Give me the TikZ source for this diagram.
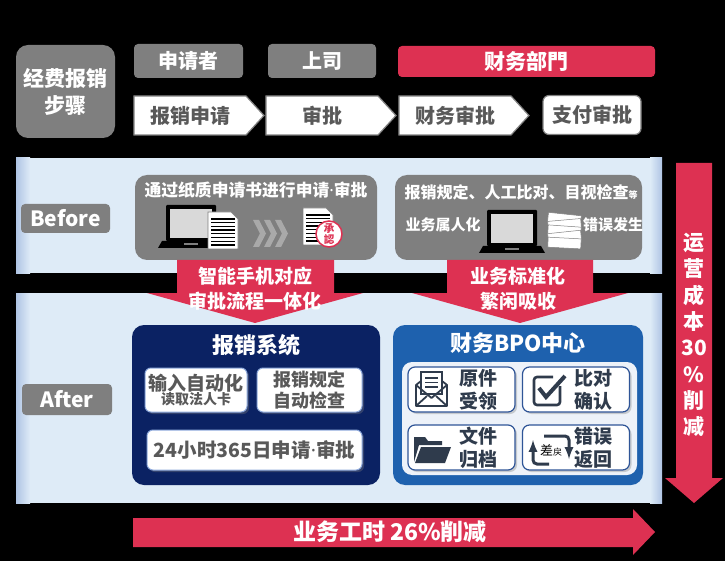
\documentclass[tikz,border=0pt]{standalone}
\usepackage{fontspec}
\setmainfont{Noto Sans CJK SC}
\newfontfamily\latinfont{Noto Sans}
\usetikzlibrary{shapes.symbols,shadows}
\definecolor{expgray}{HTML}{7F7F7F}
\definecolor{expred}{HTML}{DD3152}
\definecolor{panelblue}{HTML}{DEEBF7}
\definecolor{paneledge}{HTML}{AFC4E4}
\definecolor{sysnavy}{HTML}{0B2263}
\definecolor{bpoblue}{HTML}{1E61AE}
\definecolor{bpoinner}{HTML}{EDF2F9}
\definecolor{txtgray}{HTML}{595959}
\definecolor{icondark}{HTML}{2F3B4C}
\definecolor{boxedge}{HTML}{8FAADC}
\definecolor{celledge}{HTML}{2F5597}
\definecolor{chevgray}{HTML}{A9A9A9}
\definecolor{lapgray}{HTML}{D9D9D9}
\newcommand{\fsz}[2]{\bfseries\fontsize{#1}{#2}\selectfont}
\newcommand{\mdot}{{\latinfont\bfseries ·}}

\begin{document}
\begin{tikzpicture}[x=1pt,y=-1pt,>=latex,
  graybox/.style={fill=expgray,rounded corners=4pt,inner sep=0pt,text=white,font=\fsz{20}{24}},
  stepbox/.style={signal,signal to=east,signal pointer angle=95,draw=expgray,line width=1.2pt,
    fill=white,text=txtgray,minimum height=39pt,minimum width=130pt,inner sep=0pt,font=\fsz{20}{24}},
  redtext/.style={text=white,align=center,font=\fsz{19}{25}},
  sysbox/.style={draw=boxedge,line width=1pt,fill=white,rounded corners=6pt,text=txtgray,
    inner sep=0pt,align=center,drop shadow={opacity=0.35,shadow xshift=2pt,shadow yshift=-2pt}},
  bpocell/.style={draw=celledge,line width=1.2pt,fill=white,rounded corners=7pt,
    minimum width=107pt,minimum height=45pt,inner sep=0pt,
    drop shadow={opacity=0.35,shadow xshift=2pt,shadow yshift=-2pt}},
  bpotext/.style={text=icondark,align=center,font=\fsz{19}{23}}]

% background
\fill[black] (0,0) rectangle (725,561);

% header
\node[graybox,rounded corners=12pt,minimum width=99pt,minimum height=93pt,align=center,
  font=\fsz{21}{27}] (steps) at (65.5,91.5) {经费报销\\步骤};
\node[graybox,minimum width=109pt,minimum height=34pt] (applicant) at (188.5,61) {申请者};
\node[graybox,minimum width=108pt,minimum height=34pt] (boss) at (322,61) {上司};
\node[graybox,fill=expred,minimum width=257pt,minimum height=31pt,font=\fsz{21}{24}] (finance) at (526.5,61.5) {财务部門};

\node[stepbox] (apply) at (190,115.5) {报销申请};
\node[stepbox] (approve) at (322,115.5) {审批};
\node[stepbox] (check) at (455,115.5) {财务审批};
\node[draw=expgray,line width=1.2pt,fill=white,rounded corners=6pt,minimum width=98pt,minimum height=39pt,
  inner sep=0pt,text=txtgray,font=\fsz{20}{24}] (pay) at (592,115) {支付审批};

% panels
\foreach \ya/\yb in {158/273,293/503}{
  \fill[panelblue] (16,\ya) rectangle (662,\yb);
  \shade[left color=paneledge,right color=panelblue] (16,\ya) rectangle (30,\yb);
  \shade[left color=panelblue,right color=paneledge] (650,\ya) rectangle (662,\yb);
}
\node[graybox,minimum width=89pt,minimum height=29pt,font=\fsz{21}{24}] (before) at (65.5,218.5) {Before};
\node[graybox,minimum width=90pt,minimum height=31pt,font=\fsz{21}{24}] (after) at (67,399.5) {After};

% before: paper
\node[graybox,rounded corners=12pt,minimum width=242pt,minimum height=85pt] (paper) at (256,217.5) {};
\node[text=white,font=\fsz{16.8}{19}] (papertitle) at (256,190) {通过纸质申请书进行申请\mdot 审批};
% before: manual
\node[graybox,rounded corners=12pt,minimum width=247pt,minimum height=85pt] (manual) at (518.5,217.5) {};
\node[text=white,font=\fsz{16}{19}] (manualtitle) at (521,192) {报销规定、人工比对、目视检查{\fsz{9}{9}等}};
\node[text=white,font=\fsz{15}{18}] (person) at (443,225) {业务属人化};
\node[text=white,font=\fsz{15}{18}] (error) at (613,225) {错误发生};

% laptops
\foreach \lx/\ly in {166/205,487/210}{
  \fill[black,rounded corners=1pt] (\lx,\ly) rectangle ++(50,36);
  \fill[lapgray] (\lx+4,\ly+4) rectangle ++(42,29);
  \fill[black] (\lx-4,\ly+36) -- (\lx+54,\ly+36) -- (\lx+58,\ly+43) -- (\lx-8,\ly+43) -- cycle;
  \fill[expgray] (\lx+18,\ly+38.5) rectangle ++(14,2);
}
% documents
\foreach \dx/\dy in {208/212,303/208}{
  \filldraw[fill=white,draw=gray,line width=0.6pt] (\dx,\dy) -- (\dx+23,\dy) -- (\dx+30,\dy+7)
    -- (\dx+30,\dy+37) -- (\dx,\dy+37) -- cycle;
  \foreach \k in {0,...,7}
    \draw[black,line width=1.3pt] (\dx+3,\dy+7+3.7*\k) -- (\dx+27,\dy+7+3.7*\k);
}
\foreach \c in {0,1,2}
  \fill[chevgray] (253+11*\c,220) -- (259+11*\c,220) -- (266+11*\c,233.5) -- (259+11*\c,247)
    -- (253+11*\c,247) -- (260+11*\c,233.5) -- cycle;
\node[circle,draw=expred,line width=1.5pt,fill=white,minimum size=26pt,inner sep=0pt,text=expred,
  align=center,font=\fsz{10.5}{10.5}] (stamp) at (329,234) {承\\認};
% paper pile
\foreach \yy/\a in {218/-6,224/5,230/-4,236/6,242/-3}
  \filldraw[fill=white,draw=expgray,line width=0.5pt,rotate around={\a:(564,\yy)}]
    (548,\yy-4) rectangle (581,\yy+6);

% red arrows down
\fill[expred] (177,260) -- (334,260) -- (334,293) -- (363,293) -- (255,323) -- (147,293) -- (177,293) -- cycle;
\node[redtext] (mobile) at (255,289) {智能手机对应\\审批流程一体化};
\fill[expred] (447,260) -- (593,260) -- (593,293) -- (628,293) -- (520,323) -- (412,293) -- (447,293) -- cycle;
\node[redtext] (standard) at (518,288.5) {业务标准化\\繁闲吸收};

% system
\node[fill=sysnavy,rounded corners=12pt,minimum width=248pt,minimum height=160pt] (system) at (256,405) {};
\node[text=white,font=\fsz{22}{26}] (systitle) at (256,345) {报销系统};
\node[sysbox,minimum width=102pt,minimum height=44pt] (autoinput) at (196,390)
  {{\fsz{19}{21}输入自动化}\\{\fsz{14}{16}读取法人卡}};
\node[sysbox,minimum width=105pt,minimum height=44pt,font=\fsz{18}{21}] (autocheck) at (309.5,390) {报销规定\\自动检查};
\node[sysbox,minimum width=215pt,minimum height=40pt,font=\fsz{19.5}{21}] (allday) at (254.5,450) {24小时365日申请\mdot 审批};

% bpo
\node[fill=bpoblue,rounded corners=12pt,minimum width=250pt,minimum height=160pt] (bpo) at (518,405) {};
\node[text=white,font=\fsz{22}{26}] (bpotitle) at (518,343) {财务BPO中心};
\node[fill=bpoinner,rounded corners=10pt,minimum width=235pt,minimum height=113pt] (bpopanel) at (519.5,418.5) {};
\foreach \nm/\bx/\by/\txt in {recv/461.5/389.5/{原件\\受领},match/576/389.5/{比对\\确认},
    file/461.5/447.5/{文件\\归档},back/576/447.5/{错误\\返回}}{
  \node[bpocell] (\nm) at (\bx,\by) {};
  \node[bpotext] (\nm text) at (\bx+17,\by) {\txt};
}
% icons
\draw[icondark,line width=1.6pt,fill=white] (421,372) rectangle (442,394);
\foreach \ly in {378,382.5,387}
  \draw[icondark,line width=1.4pt] (425,\ly) -- (438,\ly);
\draw[icondark,line width=1.8pt,line join=round] (421,381) -- (416,385) -- (416,406) -- (447,406) -- (447,385) -- (442,381);
\draw[icondark,line width=1.8pt,line join=round] (416,385) -- (431.5,398) -- (447,385);
\draw[icondark,line width=1.8pt] (416,406) -- (427,396) (447,406) -- (436,396);
\draw[icondark,line width=2.6pt,rounded corners=3pt] (560,386) -- (560,405) -- (534,405) -- (534,377) -- (553,377);
\draw[icondark,line width=4pt] (539,388) -- (546,397) -- (565,376);
\fill[icondark] (414,462) -- (414,437) -- (425,437) -- (428,441) -- (442,441) -- (442,445) -- (419,445) -- cycle;
\fill[icondark] (421,447) -- (451,447) -- (445,463) -- (415,463) -- cycle;
\draw[icondark,line width=3pt,->,rounded corners=4pt] (549,464) -- (533,464) -- (533,440);
\draw[icondark,line width=3pt,->,rounded corners=4pt] (544,436) -- (569,436) -- (569,459);
\node[font=\fontsize{13}{13}\selectfont] (sashi) at (551,450) {差{\fontsize{9}{9}\selectfont 戻}};

% cost arrow
\fill[expred] (676,163) -- (712,163) -- (712,478) -- (723,478) -- (694,503) -- (665,478) -- (676,478) -- cycle;
\node[text=white,align=center,font=\fsz{21}{26.3}] (cost) at (694,335) {运\\营\\成\\本\\30\\\%\\削\\减};
% hours arrow
\fill[expred] (133,518) -- (633,518) -- (633,509) -- (655,532) -- (633,555) -- (633,547) -- (133,547) -- cycle;
\node[text=white,font=\fsz{23}{26}] (hours) at (390,532) {业务工时 26\%削减};
\end{tikzpicture}
\end{document}
